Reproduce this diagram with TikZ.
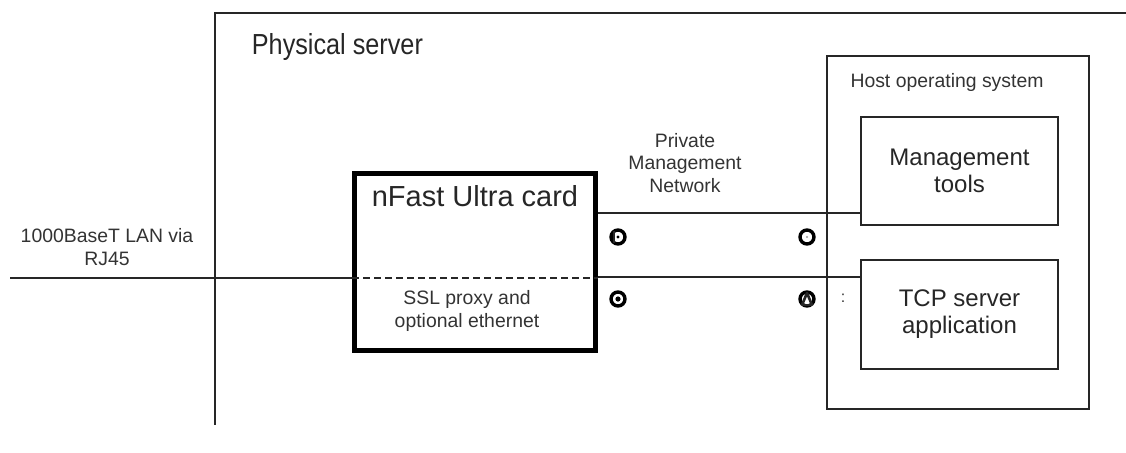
\documentclass[tikz,border=0pt]{standalone}
\usepackage{fontspec}
\setmainfont{Liberation Sans}
\usetikzlibrary{positioning,calc}

\begin{document}
\begin{tikzpicture}[x=0.5pt, y=-0.5pt,
    line width=0.9pt, draw=black!85,
    boxnode/.style={rectangle, draw, line width=0.9pt, align=center},
    cardnode/.style={rectangle, draw=black, line width=2.5pt, minimum width=120.5pt, minimum height=88.5pt},
    smalltext/.style={align=center, text=black!80, font=\fontsize{9.7}{11.3}\selectfont},
    bigtext/.style={align=center, text=black!85, font=\fontsize{12}{13.6}\selectfont},
    porticon/.style={circle, draw=black, line width=1.7pt, minimum size=7pt, inner sep=0pt}
]
    \useasboundingbox (0,0) rectangle (1126,452);

    % Physical server
    \draw (1126,13) -| (215,425);
    \node[anchor=base west, inner sep=0pt, text=black!85, font=\fontsize{14.5}{16}\selectfont] (pslabel) at (251,54) {\scalebox{0.87}[1]{Physical server}};

    % LAN side
    \coordinate (lan) at (10,278);
    \node[smalltext] (lanlabel) at (107,247) {1000BaseT LAN via\\RJ45};

    % nFast Ultra card
    \node[cardnode] (card) at (475,262) {};
    \node[anchor=base, text=black!85, font=\fontsize{14.5}{16}\selectfont] (cardlabel) at (475,206) {nFast Ultra card};
    \node[smalltext] (ssllabel) at (467,311) {SSL proxy and\\optional ethernet};
    \draw (lan) -- (card.west |- lan);
    \draw[dash pattern=on 3.5pt off 2pt] (card.west |- lan) -- (card.east |- lan);

    % Host operating system
    \node[boxnode, minimum width=131pt, minimum height=176.5pt] (host) at (958,232.5) {};
    \node[smalltext, anchor=base] (hostlabel) at (947,87) {Host operating system};
    \node[boxnode, bigtext, minimum width=98.5pt, minimum height=54pt] (mgmt) at (959.5,171) {Management\\tools};
    \node[boxnode, bigtext, minimum width=98.5pt, minimum height=54.5pt] (tcp) at (959.5,314.5) {TCP server\\application};
    \node[smalltext, font=\fontsize{8}{9}\selectfont] (colon) at (843,298) {:};

    % Connectors
    \coordinate (mgmtline) at ($(mgmt.south west)+(0,-13)$);
    \coordinate (tcpline) at ($(tcp.north west)+(0,18)$);
    \draw (card.east |- mgmtline) -- (mgmtline);
    \draw (card.east |- tcpline) -- (tcpline);
    \node[smalltext] (netlabel) at (685,163) {Private\\Management\\Network};

    % Port markers
    \node[porticon] (p1) at (618,237) {};
    \node[porticon] (p2) at (807,237) {};
    \node[porticon] (p3) at (618,299) {};
    \node[porticon] (p4) at (807,299) {};
    \draw[line width=1.4pt] ($(p1.center)+(-4,-6)$) -- ($(p1.center)+(-4,6)$);
    \fill (p1.center) circle (0.8pt);
    \fill[black!40] (p2.center) circle (0.6pt);
    \fill (p3.center) circle (1.3pt);
    \draw[line width=1.3pt, line join=round] ($(p4.center)+(-5,6)$) -- ($(p4.center)+(0,-6)$) -- ($(p4.center)+(5,6)$);
    \draw[line width=1.3pt] ($(p4.center)+(-5,6)$) -- ($(p4.center)+(5,6)$);
\end{tikzpicture}
\end{document}
